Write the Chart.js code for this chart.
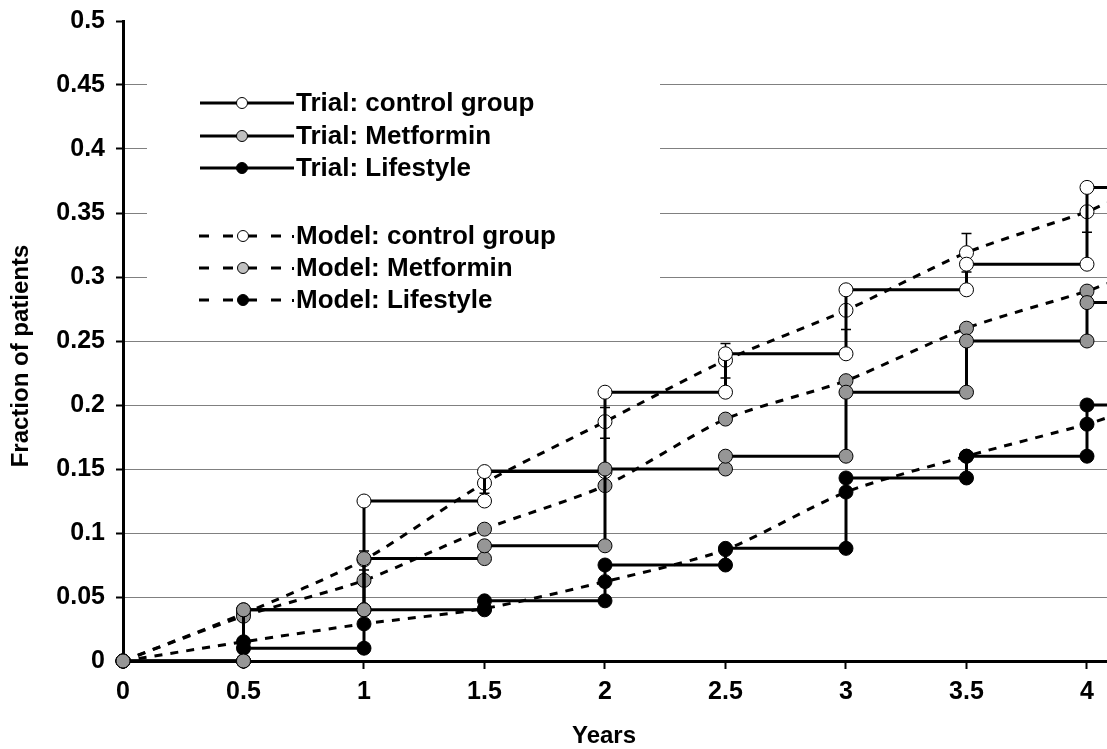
<!DOCTYPE html>
<html><head><meta charset="utf-8">
<script src="https://cdn.jsdelivr.net/npm/chart.js@4/dist/chart.umd.min.js"></script>
<style>html,body{margin:0;padding:0;background:#fff;overflow:hidden}#wrap{width:1107px;height:749px;position:relative}</style>
</head><body><div id="wrap"><canvas id="c" width="1107" height="749"></canvas></div>
<script>
// ---- data ----
const stepTimes = [0, 0.5, 1, 1.5, 2, 2.5, 3, 3.5, 4];
const xEnd = 4.083;
const trialControl   = [0, 0.04, 0.125, 0.148, 0.21, 0.24, 0.29, 0.31, 0.37];
const trialMetformin = [0, 0.04, 0.08, 0.09, 0.15, 0.16, 0.21, 0.25, 0.28];
const trialLifestyle = [0, 0.01, 0.04, 0.047, 0.075, 0.088, 0.143, 0.16, 0.20];

const modelTimes     = [0, 0.5, 1, 1.5, 2, 2.5, 3, 3.5, 4, 4.083];
const modelControl   = [0, 0.037, 0.079, 0.139, 0.187, 0.235, 0.274, 0.319, 0.351, 0.358];
const modelMetformin = [0, 0.035, 0.063, 0.103, 0.137, 0.189, 0.219, 0.26, 0.289, 0.295];
const modelLifestyle = [0, 0.015, 0.029, 0.041, 0.062, 0.087, 0.132, 0.16, 0.185, 0.19];

const errTimes = [1, 1.5, 2, 2.5, 3, 3.5, 4];
const errLow   = [0.071, 0.131, 0.174, 0.221, 0.259, 0.304, 0.335];
const errHigh  = [0.086, 0.147, 0.198, 0.248, 0.288, 0.334, 0.367];

const xTickValues = [0, 0.5, 1, 1.5, 2, 2.5, 3, 3.5, 4];
const xTickLabels = ['0', '0.5', '1', '1.5', '2', '2.5', '3', '3.5', '4'];
const yTickValues = [0, 0.05, 0.1, 0.15, 0.2, 0.25, 0.3, 0.35, 0.4, 0.45, 0.5];
const yTickLabels = ['0', '0.05', '0.1', '0.15', '0.2', '0.25', '0.3', '0.35', '0.4', '0.45', '0.5'];

const seriesLabels = ['Trial: control group', 'Trial: Metformin', 'Trial: Lifestyle',
                      'Model: control group', 'Model: Metformin', 'Model: Lifestyle'];
const xTitle = 'Years';
const yTitle = 'Fraction of patients';

// ---- helpers ----
const FONT = '"Liberation Sans", Arial, sans-serif';
const WHITE = '#ffffff', GRAY = '#969696', BLACK = '#000000';

function stepPoints(vals) {
  const pts = [{x: stepTimes[0], y: vals[0]}];
  for (let i = 1; i < stepTimes.length; i++) {
    pts.push({x: stepTimes[i], y: vals[i - 1]});
    pts.push({x: stepTimes[i], y: vals[i]});
  }
  pts.push({x: xEnd, y: vals[vals.length - 1]});
  return pts;
}
function modelPoints(vals) {
  return modelTimes.map((t, i) => ({x: t, y: vals[i]}));
}
const markerRadius = ctx => (ctx.raw && ctx.raw.x > 4.01) ? 0 : 7;

function trialDs(label, vals, fill, order) {
  return {label, data: stepPoints(vals), borderColor: BLACK, borderWidth: 3,
    pointBackgroundColor: fill, pointBorderColor: BLACK, pointBorderWidth: 1,
    pointRadius: markerRadius, pointHoverRadius: markerRadius, tension: 0, fill: false,
    clip: false, order, legendDash: false};
}
function modelDs(label, vals, fill, order) {
  return {label, data: modelPoints(vals), borderColor: BLACK, borderWidth: 3, borderDash: [8, 8],
    pointBackgroundColor: fill, pointBorderColor: BLACK, pointBorderWidth: 1,
    pointRadius: markerRadius, pointHoverRadius: markerRadius, tension: 0.25, fill: false,
    clip: false, order, legendDash: true};
}

const datasets = [
  trialDs(seriesLabels[0], trialControl, WHITE, 2),
  trialDs(seriesLabels[1], trialMetformin, GRAY, 0),
  trialDs(seriesLabels[2], trialLifestyle, BLACK, 1),
  modelDs(seriesLabels[3], modelControl, WHITE, 5),
  modelDs(seriesLabels[4], modelMetformin, GRAY, 4),
  modelDs(seriesLabels[5], modelLifestyle, BLACK, 3)
];
const legendFills = [WHITE, '#c0c0c0', BLACK, WHITE, '#c0c0c0', BLACK];
const legendRows = [103, 136, 168, 236, 268, 300];

const errorBarPlugin = {
  id: 'errbars',
  beforeDatasetsDraw(chart) {
    const {ctx, scales: {x, y}} = chart;
    ctx.save();
    ctx.strokeStyle = BLACK; ctx.lineWidth = 1.5;
    errTimes.forEach((t, i) => {
      const px = x.getPixelForValue(t);
      const y1 = y.getPixelForValue(errLow[i]), y2 = y.getPixelForValue(errHigh[i]);
      ctx.beginPath();
      ctx.moveTo(px, y1); ctx.lineTo(px, y2);
      ctx.moveTo(px - 5, y1); ctx.lineTo(px + 5, y1);
      ctx.moveTo(px - 5, y2); ctx.lineTo(px + 5, y2);
      ctx.stroke();
    });
    ctx.restore();
  }
};

const titlesPlugin = {
  id: 'axisTitles',
  afterDraw(chart) {
    const ctx = chart.ctx;
    ctx.save();
    ctx.fillStyle = BLACK;
    ctx.font = 'bold 24px ' + FONT;
    ctx.textAlign = 'center'; ctx.textBaseline = 'middle';
    ctx.fillText(xTitle, 604, 736);
    ctx.translate(21, 356);
    ctx.rotate(-Math.PI / 2);
    ctx.fillText(yTitle, 0, 0);
    ctx.restore();
  }
};

const legendPlugin = {
  id: 'customLegend',
  afterDatasetsDraw(chart) {
    const ctx = chart.ctx;
    ctx.save();
    ctx.fillStyle = WHITE;
    ctx.fillRect(147, 68, 513, 250);
    chart.data.datasets.forEach((ds, i) => {
      const yy = legendRows[i];
      ctx.strokeStyle = BLACK; ctx.lineWidth = 3;
      if (ds.legendDash) {
        ctx.setLineDash([10, 14]);
        ctx.beginPath(); ctx.moveTo(199, yy); ctx.lineTo(288, yy); ctx.stroke();
        ctx.setLineDash([]);
        ctx.fillStyle = BLACK; ctx.fillRect(292, yy - 1, 2, 3);
      } else {
        ctx.beginPath(); ctx.moveTo(200, yy); ctx.lineTo(294, yy); ctx.stroke();
      }
      const mx = ds.legendDash ? 243 : 242;
      ctx.beginPath(); ctx.arc(mx, yy, 5.5, 0, Math.PI * 2);
      ctx.fillStyle = legendFills[i]; ctx.fill();
      ctx.lineWidth = 1; ctx.stroke();
      ctx.fillStyle = BLACK;
      ctx.font = 'bold 26px ' + FONT;
      ctx.textAlign = 'left'; ctx.textBaseline = 'middle';
      ctx.fillText(ds.label, 296, yy + 1);
    });
    ctx.restore();
  }
};

new Chart(document.getElementById('c'), {
  type: 'line',
  data: {datasets},
  options: {
    responsive: false, animation: false, devicePixelRatio: 1,
    layout: {autoPadding: false, padding: {top: 21, left: 0, right: 0, bottom: 0}},
    plugins: {legend: {display: false}, tooltip: {enabled: false}},
    scales: {
      x: {
        type: 'linear', min: 0, max: xEnd,
        afterBuildTicks: s => { s.ticks = xTickValues.map(v => ({value: v})); },
        afterFit: s => { s.height = 88; s.paddingLeft = 0; s.paddingRight = 0; },
        ticks: {callback: (v, i) => xTickLabels[i], maxRotation: 0, autoSkip: false, padding: 8,
                color: BLACK, font: {family: FONT, size: 25, weight: 'bold'}},
        grid: {drawOnChartArea: false, drawTicks: true, tickLength: 8, tickColor: BLACK, tickWidth: 2},
        border: {display: true, color: BLACK, width: 3},
        title: {display: false}
      },
      y: {
        type: 'linear', min: 0, max: 0.5,
        afterBuildTicks: s => { s.ticks = yTickValues.map(v => ({value: v})); },
        afterFit: s => { s.width = 123; s.paddingTop = 0; s.paddingBottom = 0; },
        ticks: {callback: (v, i) => yTickLabels[i], autoSkip: false, padding: 11,
                color: BLACK, font: {family: FONT, size: 25, weight: 'bold'}},
        grid: {color: ctx => (ctx.tick && (ctx.tick.value === 0 || ctx.tick.value === 0.5)) ? 'rgba(0,0,0,0)' : '#808080',
               lineWidth: 1, drawTicks: true, tickLength: 7, tickColor: BLACK, tickWidth: 2},
        border: {display: true, color: BLACK, width: 3},
        title: {display: false}
      }
    }
  },
  plugins: [errorBarPlugin, legendPlugin, titlesPlugin]
});
</script></body></html>
